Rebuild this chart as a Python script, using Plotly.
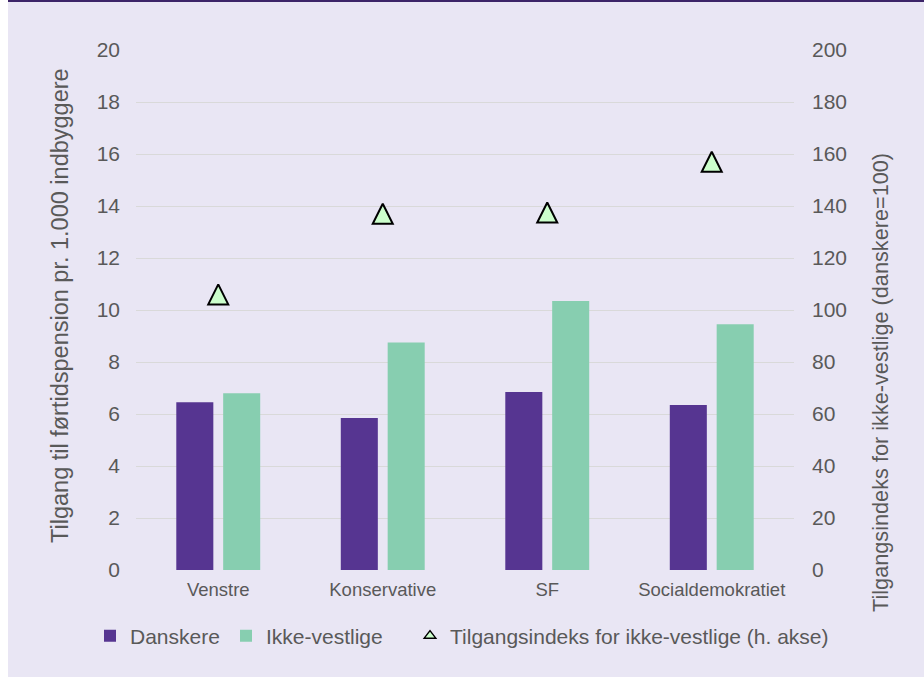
import plotly.graph_objects as go

categories = ["Venstre", "Konservative", "SF", "Socialdemokratiet"]
danskere = [6.45, 5.85, 6.85, 6.35]
ikke_vestlige = [6.8, 8.75, 10.35, 9.45]
tilgangsindeks = [106, 137, 137.5, 157]

left_ticks = list(range(0, 21, 2))
right_ticks = list(range(0, 201, 20))

FONT = "Liberation Sans, Arial, sans-serif"
TXT = "#595959"
BG = "#E9E6F4"

# plot area in px
L, R, T, B = 136, 794, 50, 570
W, H = 924, 677


def px_x(x):
    return (x - L) / (R - L)


def px_y(y):
    return (B - y) / (B - T)


fig = go.Figure()
fig.add_trace(go.Bar(x=categories, y=danskere, name="Danskere", legend="legend",
                     marker=dict(color="#563591", line=dict(width=0))))
fig.add_trace(go.Bar(x=categories, y=ikke_vestlige, name="Ikke-vestlige", legend="legend2",
                     marker=dict(color="#87CEB0", line=dict(width=0))))
fig.add_trace(go.Scatter(x=categories, y=tilgangsindeks, yaxis="y2", mode="markers",
                         showlegend=False,
                         name="Tilgangsindeks for ikke-vestlige (h. akse)",
                         marker=dict(symbol="arrow-down", angle=180, standoff=10, size=20,
                                     color="#CCFFCC", line=dict(color="black", width=2))))
# legend entry for the index series
fig.add_trace(go.Scatter(x=[None], y=[None], yaxis="y2", mode="markers", legend="legend3",
                         name="Tilgangsindeks for ikke-vestlige (h. akse)",
                         marker=dict(symbol="triangle-up", size=10,
                                     color="#CCFFCC", line=dict(color="black", width=1.5))))

leg_common = dict(orientation="h", xanchor="left", y=px_y(636), yanchor="middle",
                  font=dict(size=21, color=TXT), bgcolor="rgba(0,0,0,0)")

fig.update_layout(
    width=W, height=H,
    margin=dict(l=L, r=W - R, t=T, b=H - B, pad=0),
    paper_bgcolor=BG, plot_bgcolor=BG,
    font=dict(family=FONT, color=TXT, size=21),
    barmode="group", bargap=0.43, bargroupgap=0.21,
    showlegend=True,
    legend=dict(x=px_x(90), **leg_common),
    legend2=dict(x=px_x(226), **leg_common),
    legend3=dict(x=px_x(410), **leg_common),
    xaxis=dict(showgrid=False, showline=False, zeroline=False, ticks="",
               tickfont=dict(size=18.5, color=TXT), ticklabelstandoff=6),
    yaxis=dict(range=[0, 20], tickvals=left_ticks, showline=False, zeroline=False,
               gridcolor="#D9D9D9", gridwidth=1.3, ticks="", ticklabelstandoff=15,
               tickfont=dict(size=21, color=TXT)),
    yaxis2=dict(range=[0, 200], tickvals=right_ticks, overlaying="y", side="right",
                showgrid=False, showline=False, zeroline=False, ticks="",
                ticklabelstandoff=17, tickfont=dict(size=21, color=TXT)),
    annotations=[
        dict(text="Tilgang til førtidspension pr. 1.000 indbyggere", xref="paper", yref="paper",
             x=px_x(60), y=px_y(306), textangle=-90, showarrow=False,
             xanchor="center", yanchor="middle", font=dict(size=23.5, color=TXT)),
        dict(text="Tilgangsindeks for ikke-vestlige (danskere=100)", xref="paper", yref="paper",
             x=px_x(880), y=px_y(383), textangle=-90, showarrow=False,
             xanchor="center", yanchor="middle", font=dict(size=21.7, color=TXT)),
    ],
    shapes=[
        dict(type="rect", xref="paper", yref="paper", x0=px_x(0), x1=px_x(8),
             y0=px_y(H), y1=px_y(0), fillcolor="white", line=dict(width=0), layer="below"),
        dict(type="rect", xref="paper", yref="paper", x0=px_x(8), x1=px_x(W),
             y0=px_y(2), y1=px_y(0), fillcolor="#3C2468", line=dict(width=0), layer="above"),
    ],
)

fig.write_html("out.html", config={"displayModeBar": False},
               post_script="document.body.style.margin='0';document.body.style.overflow='hidden';")
